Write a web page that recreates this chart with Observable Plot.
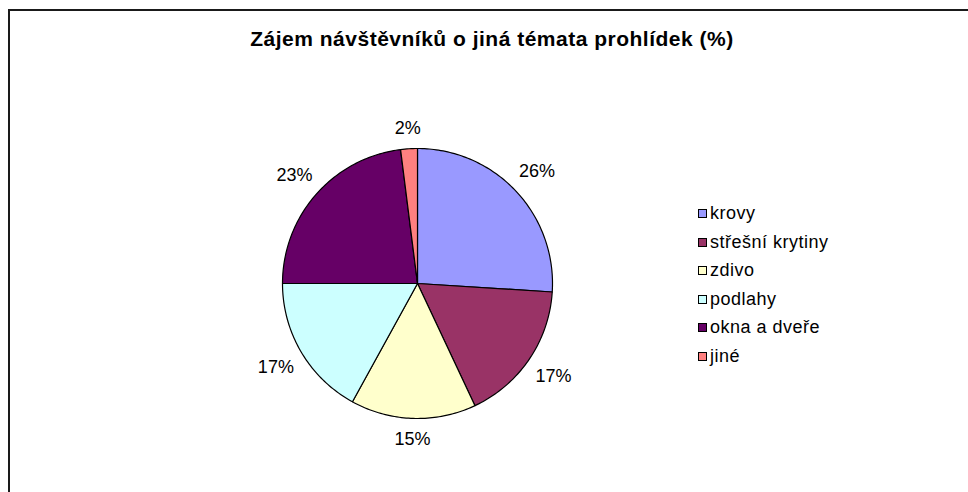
<!DOCTYPE html>
<html>
<head>
<meta charset="utf-8">
<script src="https://cdn.jsdelivr.net/npm/d3@7"></script>
<script src="https://cdn.jsdelivr.net/npm/@observablehq/plot@0.6"></script>
<style>
  html, body { margin: 0; padding: 0; background: #fff; overflow: hidden; }
  #wrap { position: relative; width: 968px; height: 492px; overflow: hidden; font-family: "Liberation Sans", Arial, sans-serif; }
  #frame { position: absolute; left: 8px; top: 9px; width: 2000px; height: 2000px; border-left: 2px solid #1a1a1a; border-top: 2px solid #1a1a1a; }
  #chart { position: absolute; left: 0; top: 0; }
  #title { position: absolute; left: 492px; top: 28px; transform: translateX(-50%); font-weight: bold; font-size: 21px; letter-spacing: 0.5px; line-height: 21px; white-space: nowrap; color: #000; }
  .lg { position: absolute; left: 698px; height: 20px; display: flex; align-items: center; font-size: 18px; letter-spacing: 0.5px; color: #000; white-space: nowrap; }
  .lg .sw { width: 7px; height: 7px; border: 1px solid #000; margin-right: 3px; }
</style>
</head>
<body>
<div id="wrap">
  <div id="frame"></div>
  <div id="chart"></div>
  <div id="title"></div>
</div>
<script>
const title = "Zájem návštěvníků o jiná témata prohlídek (%)";
const categories = ["krovy", "střešní krytiny", "zdivo", "podlahy", "okna a dveře", "jiné"];
const values = [26, 17, 15, 17, 23, 2];
const labels = ["26%", "17%", "15%", "17%", "23%", "2%"];
const colors = ["#9999FF", "#993366", "#FFFFCC", "#CCFFFF", "#660066", "#FF8080"];

// layout
const cx = 417, cy = 283, R = 135;
const labelGap = 11, fontPx = 18;

const arcs = d3.pie().sort(null).value(d => d)(values);

// polygon outline points of each slice (geometry from the pie angles)
const slicePts = [];
arcs.forEach((a, i) => {
  const name = categories[i];
  slicePts.push({name, x: 0, y: 0});
  const steps = Math.max(2, Math.ceil((a.endAngle - a.startAngle) / (Math.PI / 180)));
  for (let k = 0; k <= steps; k++) {
    const t = a.startAngle + (a.endAngle - a.startAngle) * k / steps;
    slicePts.push({name, x: Math.sin(t), y: Math.cos(t)});
  }
  slicePts.push({name, x: 0, y: 0});
});

// label positions outside the pie
const labelPts = arcs.map((a, i) => {
  const m = (a.startAngle + a.endAngle) / 2;
  const s = Math.sin(m), c = Math.cos(m);
  const halfW = labels[i].length * fontPx * 0.3;
  const halfH = fontPx * 0.5;
  const d = (R + labelGap + Math.abs(s) * halfW + Math.abs(c) * halfH) / R;
  return {label: labels[i], x: s * d, y: c * d};
});

const chart = Plot.plot({
  width: 968,
  height: 492,
  margin: 0,
  x: {domain: [-1, 1], range: [cx - R, cx + R], axis: null},
  y: {domain: [-1, 1], range: [cy + R, cy - R], axis: null},
  color: {domain: categories, range: colors},
  style: {background: "transparent", fontFamily: "Liberation Sans, Arial, sans-serif"},
  marks: [
    Plot.line(slicePts, {x: "x", y: "y", z: "name", fill: "name", stroke: "#000", strokeWidth: 1.2, strokeLinejoin: "round", curve: "linear"}),
    Plot.text(labelPts, {x: "x", y: "y", text: "label", fontSize: fontPx, fill: "#000", textAnchor: "middle", lineAnchor: "middle", letterSpacing: "0.3px"})
  ]
});
document.getElementById("chart").appendChild(chart);
document.getElementById("title").textContent = title;

// legend
const wrap = document.getElementById("wrap");
const row0 = 213.5, rowStep = 28.6;
categories.forEach((name, i) => {
  const el = document.createElement("div");
  el.className = "lg";
  el.style.top = (row0 + i * rowStep - 10) + "px";
  const sw = document.createElement("span");
  sw.className = "sw";
  sw.style.background = colors[i];
  const tx = document.createElement("span");
  tx.textContent = name;
  el.appendChild(sw);
  el.appendChild(tx);
  wrap.appendChild(el);
});
</script>
</body>
</html>
